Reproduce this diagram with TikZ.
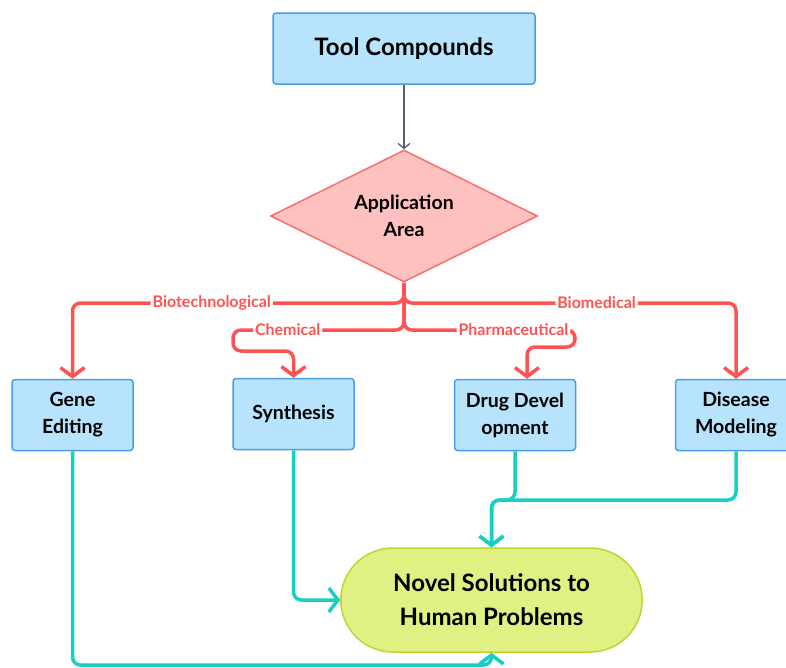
\documentclass[tikz,border=0pt]{standalone}
\usepackage{fontspec}
\setmainfont{Lato}
\usepackage{tikz}
\usetikzlibrary{shapes.geometric, shapes.misc, positioning, arrows.meta}
\definecolor{BoxBlue}{RGB}{183,228,252}
\definecolor{BoxEdge}{RGB}{74,158,232}
\definecolor{DiaPink}{RGB}{255,192,192}
\definecolor{DiaEdge}{RGB}{246,112,112}
\definecolor{FlowRed}{RGB}{255,82,82}
\definecolor{FlowTeal}{RGB}{22,208,196}
\definecolor{GoalLime}{RGB}{225,240,131}
\definecolor{GoalEdge}{RGB}{192,212,48}
\definecolor{LinkGrey}{RGB}{92,92,122}

\begin{document}
\begin{tikzpicture}[x=1pt, y=-1pt,
          box/.style={rectangle, rounded corners=3pt, draw=BoxEdge, line width=1.5pt,
                      fill=BoxBlue, minimum width=121pt, minimum height=71pt,
                      align=center, font=\bfseries\fontsize{19.5}{27}\selectfont},
          decide/.style={diamond, aspect=2, inner sep=0pt, draw=DiaEdge, line width=1.5pt,
                         fill=DiaPink, minimum width=267pt, minimum height=132pt,
                         align=center, font=\bfseries\fontsize{19.5}{27}\selectfont},
          goalbox/.style={rounded rectangle, draw=GoalEdge, line width=1.5pt, fill=GoalLime,
                          minimum width=308pt, minimum height=104pt, align=center,
                          font=\bfseries\fontsize{24}{34}\selectfont},
          lbl/.style={fill=white, text=FlowRed, inner sep=2pt,
                      font=\bfseries\fontsize{16}{18}\selectfont},
          grey/.style={-{Straight Barb[length=5pt, width=12pt]}, draw=LinkGrey, line width=1.3pt},
          redflow/.style={-{Straight Barb[length=9pt, width=24pt]}, draw=FlowRed, line width=3.5pt,
                          rounded corners=8pt},
          tealflow/.style={-{Straight Barb[length=9pt, width=24pt]}, draw=FlowTeal, line width=3.5pt,
                           rounded corners=8pt}
        ]
        \useasboundingbox (0,0) rectangle (786,667);

        \node[box, minimum width=262pt, font=\bfseries\fontsize{24}{28}\selectfont]
              (tool) at (404, 48.5) {Tool Compounds};
        \node[decide] (area) at (404, 216) {Application\\Area};

        \node[box] (gene) at (72.5, 415)  {Gene\\Editing};
        \node[box] (syn)  at (293.5, 414) {Synthesis};
        \node[box] (drug) at (515, 415)   {Drug Devel\\opment};
        \node[box] (dis)  at (736, 415)   {Disease\\Modeling};

        \node[goalbox] (goal) at (491.5, 600) {Novel Solutions to\\Human Problems};

        \draw[grey] (tool) -- (area);

        \draw[redflow] (area.south) -- (404, 303) -| node[lbl, pos=0.29] {Biotechnological} (gene.north);
        \draw[redflow] (area.south) -- (404, 303) -| node[lbl, pos=0.29] {Biomedical} (dis.north);
        \draw[redflow] (area.south) -- (404, 330) -- node[lbl, pos=0.68] {Chemical} (233, 330)
              |- (293.5, 351) -- (syn.north);
        \draw[redflow] (area.south) -- (404, 330) -- node[lbl, pos=0.64] {Pharmaceutical} (575, 330)
              -- (575, 347) -| ([xshift=12pt]drug.north);

        \draw[tealflow] (gene.south) -- (72.5, 665) -| (goal.south);
        \draw[tealflow] (syn.south) |- (goal.west);
        \draw[tealflow] (drug.south) -- (515, 500) -| (goal.north);
        \draw[tealflow] (dis.south) -- (736, 500) -| (goal.north);
      \end{tikzpicture}
\end{document}
